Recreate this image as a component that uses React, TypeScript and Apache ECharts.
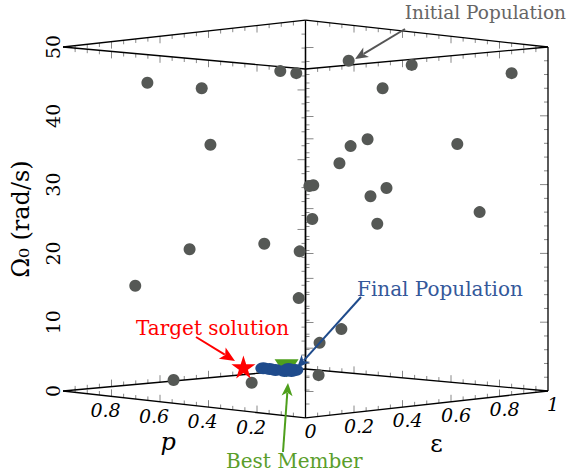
import { useEffect, useRef } from "react";
import * as echarts from "echarts";

// ---- data ----
const omegaTicks = [0, 10, 20, 30, 40, 50];
const pTickLabels = [0.2, 0.4, 0.6, 0.8];
const epsTickLabels = [0, 0.2, 0.4, 0.6, 0.8, 1];

const initP = [0.826, 0.714, 0.696, 0.552, 0.519, 0.411, 0.281, 0.075, 0.341, 0.372, 0.407, 0.187, 0.43, 0.492, 0.484, 0.486, 0.333, 0.366, 0.141, 0.352, 0.739, 0.585, 0.512, 0.851, 0.514, 0.426, 0.471, 0.772, 0.611, 0.473];
const initEps = [0.174, 0.286, 0.304, 0.448, 0.481, 0.589, 0.719, 0.925, 0.659, 0.628, 0.593, 0.813, 0.57, 0.508, 0.516, 0.514, 0.667, 0.634, 0.859, 0.648, 0.261, 0.415, 0.488, 0.149, 0.486, 0.574, 0.529, 0.228, 0.389, 0.527];
const initOmega = [44.8, 44.0, 35.8, 46.5, 46.2, 48.0, 47.4, 46.2, 44.0, 36.6, 35.6, 35.9, 33.1, 29.8, 29.9, 25.0, 29.5, 28.3, 26.0, 24.3, 20.6, 21.4, 20.3, 15.3, 13.5, 9.0, 7.0, 1.6, 1.2, 2.3];

const finalP = [0.587, 0.574, 0.562, 0.543, 0.529, 0.521, 0.535];
const finalEps = [0.413, 0.426, 0.438, 0.457, 0.471, 0.479, 0.465];
const finalOmega = [3.3, 3.2, 3.05, 2.9, 2.9, 3.05, 3.2];

const bestP = [0.539];
const bestEps = [0.461];
const bestOmega = [3.3];

const targetP = [0.628];
const targetEps = [0.372];
const targetOmega = [3.5];

// ---- projection of (p, eps, Omega) into the 2D plot plane ----
function proj(p: number, e: number, o: number): [number, number] {
  const h = e - p;
  const s = p + e;
  const B = s < 1 ? -3.92 * (1 - s) : 3.2 * (s - 1);
  const T = s < 1 ? 50 - 3.2 * (1 - s) : 50 + 3.9 * (s - 1);
  return [h, B + ((T - B) * o) / 50];
}

const FONT = "DejaVu Serif";
const STAR = "path://M50,0 L61,35 L98,35 L68,57 L79,91 L50,70 L21,91 L32,57 L2,35 L39,35 Z";

function arrow(x1: number, y1: number, x2: number, y2: number, color: string, L = 13, W = 5.5) {
  const dx = x2 - x1;
  const dy = y2 - y1;
  const len = Math.sqrt(dx * dx + dy * dy);
  const ux = dx / len;
  const uy = dy / len;
  const nx = -uy;
  const ny = ux;
  const bx = x2 - ux * L;
  const by = y2 - uy * L;
  return [
    { type: "line", z: 100, shape: { x1, y1, x2: bx + ux * 3, y2: by + uy * 3 }, style: { stroke: color, lineWidth: 2 } },
    {
      type: "polygon",
      z: 100,
      shape: {
        points: [
          [x2, y2],
          [bx + nx * W, by + ny * W],
          [bx + ux * 3.5, by + uy * 3.5],
          [bx - nx * W, by - ny * W],
        ],
      },
      style: { fill: color },
    },
  ];
}

function annot(text: string, x: number, y: number, color: string, size = 20, align = "left") {
  return {
    type: "text",
    z: 100,
    x,
    y,
    style: { text, fill: color, fontFamily: FONT, fontSize: size, align, verticalAlign: "middle" },
  };
}

export default function App() {
  const ref = useRef<HTMLDivElement>(null);
  useEffect(() => {
    if (!ref.current) return;
    const chart = echarts.init(ref.current, undefined, { renderer: "svg" });

    const renderBox = (_params: any, api: any) => {
      const pt = (p: number, e: number, o: number) => api.coord(proj(p, e, o));
      const children: any[] = [];
      const edge = (a: number[], b: number[]) => {
        const A = pt(a[0], a[1], a[2]);
        const Bp = pt(b[0], b[1], b[2]);
        children.push({ type: "line", shape: { x1: A[0], y1: A[1], x2: Bp[0], y2: Bp[1] }, style: { stroke: "#000", lineWidth: 1.3 } });
      };
      const tick = (p: number, e: number, o: number, dx: number, dy: number, len: number) => {
        const A = pt(p, e, o);
        children.push({ type: "line", shape: { x1: A[0], y1: A[1], x2: A[0] + dx * len, y2: A[1] + dy * len }, style: { stroke: "#888", lineWidth: 1 } });
      };
      for (const fixed of [0, 1]) {
        for (const o of [0, 50]) {
          const dy = o === 0 ? -1 : 1;
          for (let k = 1; k < 20; k++) {
            const v = k * 0.05;
            const len = k % 4 === 0 ? 7 : 4;
            tick(v, fixed, o, 0, dy, len);
            tick(fixed, v, o, 0, dy, len);
          }
        }
      }
      const verts: [number, number, number][] = [
        [0, 1, -1],
        [0, 0, 1],
        [1, 1, -1],
      ];
      for (const [p, e, dx] of verts) {
        for (let k = 1; k < 25; k++) {
          const len = k % 5 === 0 ? 8 : 4;
          tick(p, e, k * 2, dx, 0, len);
        }
      }
      for (const o of [0, 50]) {
        edge([1, 0, o], [0, 0, o]);
        edge([0, 0, o], [0, 1, o]);
        edge([1, 0, o], [1, 1, o]);
        edge([1, 1, o], [0, 1, o]);
      }
      edge([0, 0, 0], [0, 0, 50]);
      edge([1, 1, 0], [1, 1, 50]);
      edge([0, 1, 0], [0, 1, 50]);
      for (const p of pTickLabels) {
        const A = pt(p, 0, 0);
        children.push({
          type: "text",
          x: A[0] - 6,
          y: A[1] + 14,
          style: { text: String(p), fill: "#000", fontFamily: FONT, fontSize: 19, fontStyle: "italic", align: "center", verticalAlign: "middle" },
        });
      }
      for (const e of epsTickLabels) {
        const A = pt(0, e, 0);
        children.push({
          type: "text",
          x: A[0] + 5,
          y: A[1] + 13,
          style: { text: String(e), fill: "#000", fontFamily: FONT, fontSize: 19, fontStyle: "italic", align: "center", verticalAlign: "middle" },
        });
      }
      const pn = pt(0.55, 0, 0);
      children.push({ type: "text", x: pn[0] - 4, y: pn[1] + 39, style: { text: "p", fill: "#000", fontFamily: FONT, fontSize: 24, fontStyle: "italic", align: "center", verticalAlign: "middle" } });
      const en = pt(0, 0.54, 0);
      children.push({ type: "text", x: en[0], y: en[1] + 41, style: { text: "ε", fill: "#000", fontFamily: FONT, fontSize: 24, align: "center", verticalAlign: "middle" } });
      return { type: "group", children };
    };

    const initData = initP.map((p, i) => proj(p, initEps[i], initOmega[i]));
    const finalData = finalP.map((p, i) => proj(p, finalEps[i], finalOmega[i]));
    const bestData = bestP.map((p, i) => proj(p, bestEps[i], bestOmega[i]));
    const targetData = targetP.map((p, i) => proj(p, targetEps[i], targetOmega[i]));

    chart.setOption({
      animation: false,
      backgroundColor: "#fff",
      textStyle: { fontFamily: FONT },
      grid: { left: 63, right: 21, top: 47, bottom: 85 },
      xAxis: { type: "value", min: -1, max: 1, show: false },
      yAxis: {
        type: "value",
        min: 0,
        max: 50,
        interval: 10,
        data: omegaTicks,
        axisLine: { show: true, lineStyle: { color: "#000", width: 1.3 } },
        axisTick: { show: true, inside: true, length: 8, lineStyle: { color: "#888" } },
        minorTick: { show: true, splitNumber: 5, length: 4, lineStyle: { color: "#888" } },
        splitLine: { show: false },
        axisLabel: { rotate: 90, margin: 1, fontFamily: FONT, fontSize: 19, color: "#000" },
        name: "Ω₀ (rad/s)",
        nameLocation: "middle",
        nameRotate: 90,
        nameGap: 30,
        nameTextStyle: { fontFamily: FONT, fontSize: 24, color: "#000" },
      },
      series: [
        { type: "custom", clip: false, silent: true, data: [[0, 0]], renderItem: renderBox, z: 1 },
        { type: "scatter", clip: false, data: initData, symbolSize: 12, itemStyle: { color: "#555855", opacity: 1 }, z: 3 },
        {
          type: "scatter",
          clip: false,
          data: bestData,
          symbol: "triangle",
          symbolRotate: 180,
          symbolSize: [24, 18],
          itemStyle: { color: "#4e9f1c", opacity: 1 },
          z: 4,
        },
        { type: "scatter", clip: false, data: finalData, symbolSize: [16, 12], itemStyle: { color: "#1f4b8c", opacity: 1 }, z: 5 },
        { type: "scatter", clip: false, data: targetData, symbol: STAR, symbolSize: [24, 23], itemStyle: { color: "#ff0000", opacity: 1 }, z: 6 },
      ],
      graphic: [
        annot("Initial Population", 566, 12, "#666666", 18.5, "right"),
        ...arrow(405, 29, 355, 59, "#555555"),
        annot("Final Population", 357, 289, "#34589a"),
        ...arrow(361, 297, 297, 368, "#1f4b8c"),
        annot("Target solution", 136, 328, "#ff0000"),
        ...arrow(196, 337, 235, 361, "#ff0000", 15, 6.5),
        annot("Best Member", 226, 461, "#5a9e2a"),
        ...arrow(283, 452, 288, 383, "#4e9f1c"),
      ],
    });
    return () => chart.dispose();
  }, []);
  return <div ref={ref} style={{ position: "fixed", left: 0, top: 0, width: 569, height: 476, background: "#fff" }} />;
}
